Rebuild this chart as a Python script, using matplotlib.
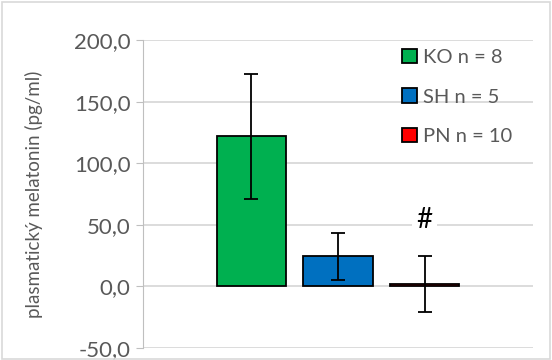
import matplotlib
matplotlib.use("Agg")
import matplotlib.pyplot as plt
from matplotlib.patches import Rectangle

plt.rcParams['font.family'] = ['Lato', 'DejaVu Sans']

# data
groups = ["KO n = 8", "SH n = 5", "PN n = 10"]
means = [121.8, 24.6, 2.0]
errors = [51.0, 19.0, 23.0]
colors = ["#00b050", "#0070c0", "#ff0000"]
yticks = [-50, 0, 50, 100, 150, 200]
ytick_labels = ["-50,0", "0,0", "50,0", "100,0", "150,0", "200,0"]

fig = plt.figure(figsize=(5.52, 3.6), dpi=100)
ax = fig.add_axes([143/552, 12/360, 390/552, 308/360])

x = range(len(groups))
bars = ax.bar(x, means, width=0.8, color=colors, edgecolor="black", linewidth=1.3,
              yerr=errors, capsize=5, error_kw=dict(elinewidth=1.3, capthick=1.3, ecolor="black"),
              label=groups, zorder=3)

ax.set_xlim(-1.254, 3.254)
ax.set_ylim(-50, 200)
ax.set_yticks(yticks)
ax.set_yticklabels(ytick_labels, fontsize=16, color="#595959")
ax.set_xticks([])
ax.yaxis.grid(True, color="#d9d9d9", linewidth=1.3, zorder=0)
ax.set_axisbelow(True)
for s in ["top", "right", "bottom"]:
    ax.spines[s].set_visible(False)
ax.spines["left"].set_color("#bfbfbf")
ax.tick_params(axis="y", direction="out", length=5, color="#bfbfbf", pad=4)
ax.set_ylabel("plasmatický melatonin (pg/ml)", fontsize=13.5, color="#595959")
ax.yaxis.set_label_coords(-100/390, 0.5)

# significance mark
ax.text(2, 54, "#", ha="center", va="center", fontsize=20, color="black",
        bbox=dict(facecolor="white", edgecolor="none", pad=3), zorder=2)

leg = ax.legend(loc="upper left", bbox_to_anchor=(0.664, 0.972), frameon=False,
                fontsize=14.5, handlelength=0.75, handleheight=0.75, handletextpad=0.3,
                labelspacing=1.1, borderaxespad=0, borderpad=0)
for t in leg.get_texts():
    t.set_color("#595959")

# chart border
fig.patches.append(Rectangle((0.004, 0.004), 0.992, 0.99, transform=fig.transFigure,
                             fill=False, edgecolor="#d9d9d9", linewidth=1.2))

fig.savefig("out.png", dpi=100)
